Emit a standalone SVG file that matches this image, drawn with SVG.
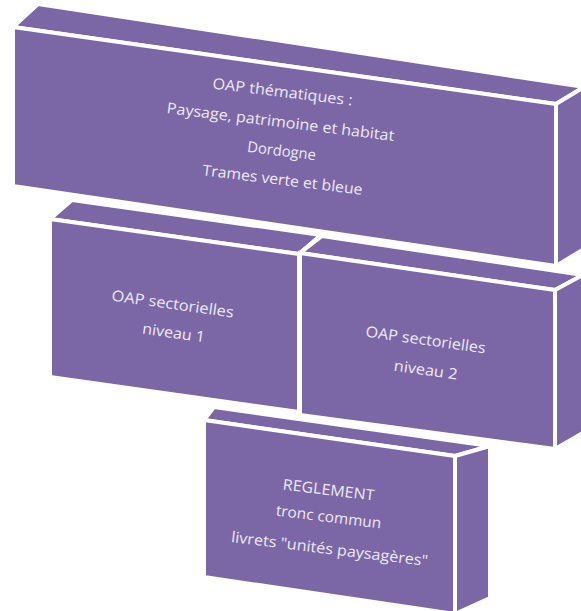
<svg xmlns="http://www.w3.org/2000/svg" width="581" height="611" viewBox="0 0 581 611">
<style>
.f{fill:#7B67A6;stroke:#FFFFFF;stroke-width:4;stroke-linejoin:miter}
.t{font-family:"Open Sans","Liberation Sans",sans-serif;font-size:15px;fill:#EEEAF4;text-anchor:middle}
</style>
<rect width="581" height="611" fill="#FFFFFF"/>
<g id="box-thematiques">
<polygon class="f" points="13,27 556,104 584,87 38,4"/>
<polygon class="f" points="556,104 584,87 584,249 556,266"/>
<polygon class="f" points="13,27 556,104 556,266 13,186"/>
<g transform="rotate(7 282 97)"><text class="t" x="282" y="97" textLength="141" lengthAdjust="spacingAndGlyphs">OAP thématiques :</text></g>
<g transform="rotate(7 280 127)"><text class="t" x="280" y="127" textLength="229" lengthAdjust="spacingAndGlyphs">Paysage, patrimoine et habitat</text></g>
<g transform="rotate(7 281 156)"><text class="t" x="281" y="156" textLength="69" lengthAdjust="spacingAndGlyphs">Dordogne</text></g>
<g transform="rotate(7 282 185)"><text class="t" x="282" y="185" textLength="161" lengthAdjust="spacingAndGlyphs">Trames verte et bleue</text></g>
</g>
<g id="box-niveau1">
<polygon class="f" points="50,219 299,254 321,235 72,200"/>
<polygon class="f" points="299,254 321,235 321,393 299,412"/>
<polygon class="f" points="50,219 299,254 299,412 50,377"/>
<g transform="rotate(8 172 309)"><text class="t" x="172" y="309" textLength="123" lengthAdjust="spacingAndGlyphs">OAP sectorielles</text></g>
<g transform="rotate(8 173 338)"><text class="t" x="173" y="338" textLength="63" lengthAdjust="spacingAndGlyphs">niveau 1</text></g>
</g>
<g id="box-niveau2">
<polygon class="f" points="300,253 555,290 583,275 322,236"/>
<polygon class="f" points="555,290 583,275 583,433 555,449"/>
<polygon class="f" points="300,253 555,290 555,449 300,415"/>
<g transform="rotate(8 425 345)"><text class="t" x="425" y="345" textLength="121" lengthAdjust="spacingAndGlyphs">OAP sectorielles</text></g>
<g transform="rotate(8 425 375)"><text class="t" x="425" y="375" textLength="64" lengthAdjust="spacingAndGlyphs">niveau 2</text></g>
</g>
<g id="box-reglement">
<polygon class="f" points="204,420 455,456 490,446 214,407"/>
<polygon class="f" points="455,456 490,446 490,598 455,614"/>
<polygon class="f" points="204,420 455,456 455,614 204,577"/>
<g transform="rotate(7 328 495)"><text class="t" x="328" y="495" textLength="92" lengthAdjust="spacingAndGlyphs">REGLEMENT</text></g>
<g transform="rotate(7 328 522)"><text class="t" x="328" y="522" textLength="106" lengthAdjust="spacingAndGlyphs">tronc commun</text></g>
<g transform="rotate(7 329 554)"><text class="t" x="329" y="554" textLength="198" lengthAdjust="spacingAndGlyphs">livrets "unités paysagères"</text></g>
</g>
<g id="connectors"></g>
</svg>
